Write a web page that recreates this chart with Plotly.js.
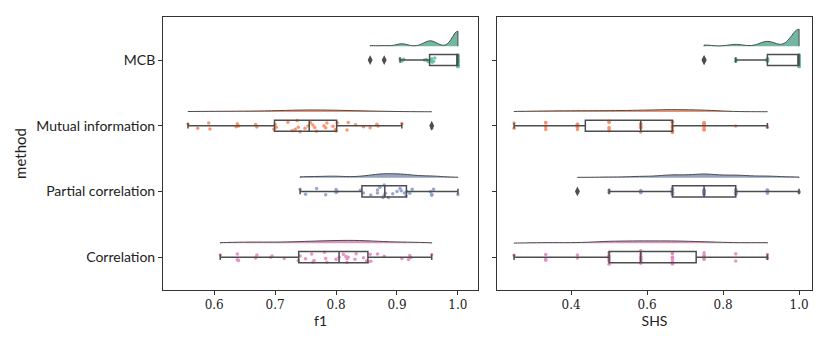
<!DOCTYPE html>
<html>
<head>
<meta charset="utf-8">
<script src="https://cdn.plot.ly/plotly-3.0.1.min.js"></script>
<style>
  body { margin: 0; background: #fff; }
  #plot { width: 830px; height: 346px; }
</style>
</head>
<body>
<div id="plot"></div>
<script>
// method names, bottom to top on the y axis
var methods = ["Correlation", "Partial correlation", "Mutual information", "MCB"];
var colors = ["#e78ac3", "#8da0cb", "#fc8d62", "#66c2a5"];
var violinColors = ["#db96c0", "#95a3c3", "#e99575", "#71b7a1"];

// f1 per method
var f1Corr = [0.610, 0.638, 0.638, 0.640, 0.668, 0.670, 0.693, 0.695, 0.715, 0.738,
  0.741, 0.750, 0.760, 0.762, 0.764, 0.781, 0.783, 0.785, 0.800, 0.805,
  0.812, 0.816, 0.818, 0.818, 0.820, 0.831, 0.833, 0.845, 0.850, 0.853,
  0.856, 0.857, 0.868, 0.879, 0.908, 0.919, 0.921, 0.923, 0.957];
var f1Partial = [0.741, 0.750, 0.768, 0.783, 0.800, 0.800, 0.802, 0.840, 0.845, 0.857,
  0.868, 0.868, 0.872, 0.877, 0.879, 0.879, 0.881, 0.886, 0.893, 0.900,
  0.905, 0.907, 0.912, 0.915, 0.916, 0.921, 0.925, 0.955, 0.957, 0.957,
  0.960, 1.000];
var f1MI = [0.557, 0.573, 0.591, 0.593, 0.636, 0.638, 0.640, 0.668, 0.670, 0.698,
  0.700, 0.702, 0.721, 0.728, 0.733, 0.736, 0.738, 0.741, 0.749, 0.754,
  0.758, 0.762, 0.765, 0.768, 0.780, 0.783, 0.785, 0.795, 0.799, 0.800,
  0.802, 0.818, 0.820, 0.832, 0.845, 0.856, 0.867, 0.869, 0.908, 0.957];
var f1MCB = [0.856, 0.879, 0.905, 0.907, 0.909, 0.911, 0.945, 0.948, 0.950, 0.952,
  0.955, 0.956, 0.957, 0.958, 0.960, 0.962,
  1, 1, 1, 1, 1, 1, 1, 1, 1, 1, 1, 1, 1, 1, 1, 1, 1, 1, 1, 1, 1, 1, 1, 1];

// SHS per method (values come in twelfths)
var shsCorr = [0.25, 0.3333, 0.3333, 0.3333, 0.4167, 0.4167,
  0.5, 0.5, 0.5, 0.5, 0.5, 0.5, 0.5, 0.5,
  0.5833, 0.5833, 0.5833, 0.5833, 0.5833, 0.5833, 0.5833, 0.5833, 0.5833,
  0.6667, 0.6667, 0.6667, 0.6667, 0.6667, 0.6667, 0.6667, 0.6667, 0.6667,
  0.75, 0.75, 0.75, 0.75, 0.75, 0.75, 0.8333, 0.8333, 0.9167, 0.9167, 0.9167];
var shsPartial = [0.4167, 0.5, 0.5, 0.5833, 0.5833, 0.5833, 0.5833,
  0.6667, 0.6667, 0.6667, 0.6667, 0.6667, 0.6667, 0.6667, 0.6667, 0.6667,
  0.75, 0.75, 0.75, 0.75, 0.75, 0.75, 0.75, 0.75, 0.75, 0.75, 0.75, 0.75,
  0.8333, 0.8333, 0.8333, 0.8333, 0.8333, 0.8333, 0.8333, 0.8333,
  0.9167, 0.9167, 0.9167, 0.9167, 0.9167, 1, 1];
var shsMI = [0.25, 0.25, 0.3333, 0.3333, 0.3333, 0.3333,
  0.4167, 0.4167, 0.4167, 0.4167, 0.4167,
  0.5, 0.5, 0.5, 0.5, 0.5,
  0.5833, 0.5833, 0.5833, 0.5833, 0.5833, 0.5833, 0.5833,
  0.6667, 0.6667, 0.6667, 0.6667, 0.6667, 0.6667, 0.6667, 0.6667, 0.6667, 0.6667,
  0.75, 0.75, 0.75, 0.75, 0.75, 0.75, 0.75, 0.75, 0.8333, 0.9167];
var shsMCB = [0.75, 0.75, 0.8333, 0.8333, 0.8333,
  0.9167, 0.9167, 0.9167, 0.9167, 0.9167, 0.9167, 0.9167, 0.9167,
  1, 1, 1, 1, 1, 1, 1, 1, 1, 1, 1, 1, 1, 1, 1, 1, 1, 1, 1, 1, 1, 1, 1, 1, 1, 1, 1, 1];

var f1Data = [f1Corr, f1Partial, f1MI, f1MCB];
var shsData = [shsCorr, shsPartial, shsMI, shsMCB];
// kde bandwidths per method
var f1Bw = [0.03, 0.018, 0.035, 0.009];
var shsBw = [0.045, 0.035, 0.045, 0.02];
// cloud heights (full violin width, the half drawn is width/2)
var f1Width = [0.09, 0.12, 0.06, 0.46];
var shsWidth = [0.075, 0.11, 0.07, 0.52];

var grey = "#4d4d4d";
var traces = [];

function addGroup(vals, i, bw, w, xa, ya) {
  // cloud: half violin sitting above the box
  traces.push({
    type: "violin", orientation: "h", x: vals, y0: i + 0.21,
    xaxis: xa, yaxis: ya, side: "positive",
    points: false, box: {visible: false}, meanline: {visible: false},
    bandwidth: bw, spanmode: "hard", scalemode: "width", width: w,
    line: {color: grey, width: 1}, fillcolor: violinColors[i],
    showlegend: false, hoverinfo: "skip"
  });
  // rain: jittered points
  traces.push({
    type: "box", orientation: "h", x: vals, y0: i,
    xaxis: xa, yaxis: ya, boxpoints: "all", jitter: 1, pointpos: 0,
    width: 0.22, line: {width: 0, color: "rgba(0,0,0,0)"}, fillcolor: "rgba(0,0,0,0)",
    marker: {color: colors[i], size: 3.5, opacity: 0.9},
    showlegend: false, hoverinfo: "skip"
  });
  // box with outlier diamonds
  traces.push({
    type: "box", orientation: "h", x: vals, y0: i,
    xaxis: xa, yaxis: ya, boxpoints: "outliers",
    width: 0.17, whiskerwidth: 0.5,
    line: {color: grey, width: 1.5}, fillcolor: "rgba(0,0,0,0)",
    marker: {color: grey, symbol: "diamond-tall", size: 7},
    showlegend: false, hoverinfo: "skip"
  });
}

for (var i = 0; i < 4; i++) {
  addGroup(f1Data[i], i, f1Bw[i], f1Width[i], "x", "y");
  addGroup(shsData[i], i, shsBw[i], shsWidth[i], "x2", "y2");
}

var sans = "Lato";
var serif = "DejaVu Serif";

var axisCommon = {
  showline: true, mirror: true, linecolor: "#333", linewidth: 1,
  ticks: "outside", ticklen: 4, tickcolor: "#333",
  showgrid: false, zeroline: false
};

var layout = {
  width: 830, height: 346,
  margin: {l: 163, r: 18, t: 17, b: 56},
  paper_bgcolor: "#fff", plot_bgcolor: "#fff",
  boxmode: "overlay", violinmode: "overlay",
  xaxis: Object.assign({}, axisCommon, {
    domain: [0, 0.4854], range: [0.516, 1.033],
    tickvals: [0.6, 0.7, 0.8, 0.9, 1.0], ticktext: ["0.6", "0.7", "0.8", "0.9", "1.0"],
    tickfont: {family: serif, size: 12, color: "#222"},
    title: {text: "f1", font: {family: sans, size: 14, color: "#222"}, standoff: 0}
  }),
  xaxis2: Object.assign({}, axisCommon, {
    domain: [0.5146, 1], range: [0.205, 1.034],
    tickvals: [0.4, 0.6, 0.8, 1.0], ticktext: ["0.4", "0.6", "0.8", "1.0"],
    tickfont: {family: serif, size: 12, color: "#222"},
    title: {text: "SHS", font: {family: sans, size: 14, color: "#222"}, standoff: 0}
  }),
  yaxis: Object.assign({}, axisCommon, {
    type: "linear", range: [-0.5, 3.655],
    tickvals: [0, 1, 2, 3], ticktext: methods,
    tickfont: {family: sans, size: 14, color: "#222"},
    title: {text: "method", font: {family: sans, size: 15, color: "#222"}, standoff: 6}
  }),
  yaxis2: Object.assign({}, axisCommon, {
    type: "linear", range: [-0.5, 3.655], anchor: "x2",
    tickvals: [0, 1, 2, 3], showticklabels: false
  })
};

Plotly.newPlot("plot", traces, layout, {displayModeBar: false, staticPlot: true});
</script>
</body>
</html>
